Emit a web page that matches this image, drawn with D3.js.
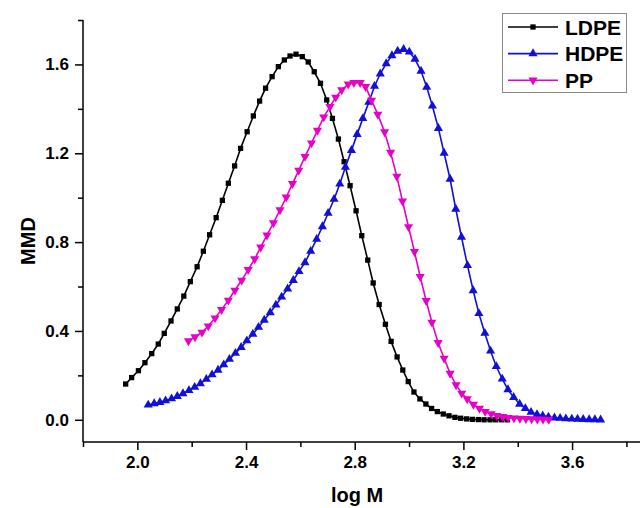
<!DOCTYPE html>
<html><head><meta charset="utf-8">
<script src="https://cdn.jsdelivr.net/npm/d3@7"></script>
<style>html,body{margin:0;padding:0;background:#fff;}svg{display:block;font-family:"Liberation Sans",Arial,sans-serif;}</style>
</head><body><svg id="c" width="640" height="508"></svg>
<script>
const seriesNames = ["LDPE", "HDPE", "PP"];
const ldpeLogM = [1.957,1.979,2.004,2.028,2.053,2.077,2.099,2.124,2.147,2.171,2.195,2.220,2.243,2.266,2.290,2.313,2.335,2.358,2.380,2.404,2.427,2.450,2.472,2.496,2.519,2.541,2.562,2.584,2.607,2.629,2.651,2.674,2.697,2.718,2.740,2.761,2.783,2.805,2.826,2.848,2.868,2.890,2.913,2.934,2.956,2.977,2.997,3.018,3.040,3.062,3.083,3.104,3.126,3.147,3.169,3.190,3.212,3.233,3.255,3.276,3.298,3.319,3.341,3.362];
const ldpeMMD = [0.161,0.190,0.221,0.257,0.298,0.341,0.389,0.445,0.499,0.557,0.622,0.689,0.759,0.833,0.910,0.988,1.065,1.143,1.222,1.297,1.368,1.435,1.493,1.545,1.590,1.620,1.638,1.646,1.635,1.611,1.567,1.515,1.440,1.357,1.264,1.162,1.054,0.941,0.829,0.719,0.616,0.519,0.430,0.353,0.283,0.224,0.172,0.125,0.094,0.071,0.051,0.037,0.026,0.018,0.011,0.007,0.004,0.002,0.001,0.000,0.000,0.000,0.000,0.000];
const hdpeLogM = [2.040,2.062,2.083,2.104,2.126,2.147,2.168,2.190,2.211,2.232,2.254,2.275,2.297,2.318,2.339,2.361,2.382,2.403,2.425,2.446,2.467,2.489,2.510,2.531,2.553,2.574,2.595,2.617,2.638,2.660,2.681,2.702,2.724,2.745,2.766,2.788,2.809,2.830,2.852,2.873,2.894,2.916,2.937,2.958,2.980,3.001,3.022,3.044,3.065,3.086,3.108,3.129,3.151,3.172,3.193,3.215,3.236,3.257,3.279,3.300,3.321,3.343,3.364,3.385,3.407,3.428,3.449,3.471,3.492,3.513,3.535,3.556,3.577,3.599,3.620,3.641,3.663,3.684,3.705];
const hdpeMMD = [0.067,0.073,0.079,0.086,0.095,0.106,0.118,0.132,0.147,0.163,0.183,0.203,0.224,0.248,0.273,0.300,0.326,0.356,0.386,0.417,0.449,0.483,0.517,0.553,0.590,0.628,0.668,0.708,0.759,0.813,0.870,0.930,0.993,1.062,1.138,1.213,1.285,1.357,1.430,1.502,1.558,1.604,1.640,1.660,1.668,1.656,1.624,1.570,1.498,1.413,1.312,1.201,1.084,0.949,0.823,0.695,0.582,0.479,0.390,0.310,0.240,0.184,0.136,0.101,0.071,0.051,0.034,0.024,0.018,0.013,0.009,0.007,0.005,0.004,0.003,0.002,0.001,0.001,0.000];
const ppLogM = [2.188,2.212,2.238,2.261,2.286,2.310,2.335,2.359,2.384,2.408,2.432,2.454,2.477,2.501,2.525,2.548,2.571,2.594,2.617,2.641,2.663,2.686,2.709,2.730,2.752,2.776,2.797,2.820,2.840,2.862,2.885,2.910,2.932,2.955,2.976,2.998,3.020,3.041,3.063,3.084,3.107,3.129,3.151,3.173,3.194,3.214,3.237,3.259,3.280,3.302,3.323,3.345,3.365,3.386,3.408,3.430,3.451,3.472,3.493,3.514];
const ppMMD = [0.355,0.373,0.394,0.422,0.458,0.496,0.538,0.583,0.628,0.676,0.724,0.777,0.831,0.886,0.945,1.002,1.063,1.123,1.185,1.246,1.303,1.363,1.410,1.452,1.485,1.511,1.518,1.518,1.500,1.438,1.375,1.296,1.204,1.096,0.984,0.869,0.757,0.644,0.536,0.439,0.347,0.277,0.209,0.157,0.119,0.094,0.069,0.051,0.037,0.027,0.019,0.014,0.010,0.008,0.006,0.005,0.004,0.003,0.002,0.001];
const xMajorTicks = [2.0, 2.4, 2.8, 3.2, 3.6];
const xMinorTicks = [1.8, 2.2, 2.6, 3.0, 3.4, 3.8];
const yMajorTicks = [0.0, 0.4, 0.8, 1.2, 1.6];
const yMinorTicks = [0.2, 0.6, 1.0, 1.4, 1.8];
const xTitle = "log M", yTitle = "MMD";

const colors = ["#000000", "#1010d8", "#e600c8"];
const symbols = [d3.symbolSquare, d3.symbolTriangle, d3.symbolTriangle];
const symSizes = [28, 36, 36];
const rotations = [0, 0, 180];

const svg = d3.select("#c");
const L = 83, R = 640, T = 20, B = 442;
const x = d3.scaleLinear().domain([1.8, 3.85]).range([L, R]);
const y = d3.scaleLinear().domain([-0.1, 1.8]).range([B, T]);

const series = [
  ldpeLogM.map((v, i) => [v, ldpeMMD[i]]),
  hdpeLogM.map((v, i) => [v, hdpeMMD[i]]),
  ppLogM.map((v, i) => [v, ppMMD[i]])
];

// axes
const fmt = d3.format(".1f");
const xAxisMajor = d3.axisBottom(x).tickValues(xMajorTicks).tickSize(8).tickPadding(6).tickFormat(fmt);
const xAxisMinor = d3.axisBottom(x).tickValues(xMinorTicks).tickSize(5).tickFormat("");
const yAxisMajor = d3.axisLeft(y).tickValues(yMajorTicks).tickSize(8).tickPadding(6).tickFormat(fmt);
const yAxisMinor = d3.axisLeft(y).tickValues(yMinorTicks).tickSize(5).tickFormat("");

function styleAxis(g) {
  g.select(".domain").remove();
  g.selectAll("line").attr("stroke", "#000").attr("stroke-width", 1.5);
  g.selectAll("text").attr("font-size", 17).attr("font-weight", "bold").attr("fill", "#000")
    .attr("font-family", "'Liberation Sans', Arial, sans-serif");
}
svg.append("g").attr("transform", `translate(0,${B})`).call(xAxisMajor).call(styleAxis);
svg.append("g").attr("transform", `translate(0,${B})`).call(xAxisMinor).call(styleAxis);
svg.append("g").attr("transform", `translate(${L},0)`).call(yAxisMajor).call(styleAxis);
svg.append("g").attr("transform", `translate(${L},0)`).call(yAxisMinor).call(styleAxis);
svg.append("line").attr("x1", L).attr("x2", R).attr("y1", B).attr("y2", B).attr("stroke", "#000").attr("stroke-width", 1.5);
svg.append("line").attr("x1", L).attr("x2", L).attr("y1", T).attr("y2", B).attr("stroke", "#000").attr("stroke-width", 1.5);

// titles
svg.append("text").attr("x", 357).attr("y", 502).attr("text-anchor", "middle")
  .attr("font-size", 20).attr("font-weight", "bold").text(xTitle);
svg.append("text").attr("transform", "translate(35,241) rotate(-90)").attr("text-anchor", "middle")
  .attr("font-size", 20).attr("font-weight", "bold").text(yTitle);

// series
const line = d3.line().x(d => x(d[0])).y(d => y(d[1]));
series.forEach((data, si) => {
  const g = svg.append("g");
  g.append("path").datum(data).attr("d", line).attr("fill", "none")
    .attr("stroke", colors[si]).attr("stroke-width", 1.6);
  const sym = d3.symbol().type(symbols[si]).size(symSizes[si]);
  g.selectAll("path.m").data(data).join("path").attr("class", "m")
    .attr("d", sym)
    .attr("transform", d => `translate(${x(d[0])},${y(d[1])}) rotate(${rotations[si]})`)
    .attr("fill", colors[si]);
});

// legend
const lg = svg.append("g");
lg.append("rect").attr("x", 502.5).attr("y", 13.5).attr("width", 124).attr("height", 79)
  .attr("fill", "#fff").attr("stroke", "#8a8a8a").attr("stroke-width", 1);
seriesNames.forEach((name, i) => {
  const cy = 27 + i * 26.6;
  lg.append("line").attr("x1", 508).attr("x2", 558).attr("y1", cy).attr("y2", cy)
    .attr("stroke", colors[i]).attr("stroke-width", 1.6);
  lg.append("path").attr("d", d3.symbol().type(symbols[i]).size(symSizes[i]))
    .attr("transform", `translate(533,${cy}) rotate(${rotations[i]})`).attr("fill", colors[i]);
  lg.append("text").attr("x", 565).attr("y", cy + 7.5).attr("font-size", 21).attr("font-weight", "bold")
    .text(name);
});
</script></body></html>
